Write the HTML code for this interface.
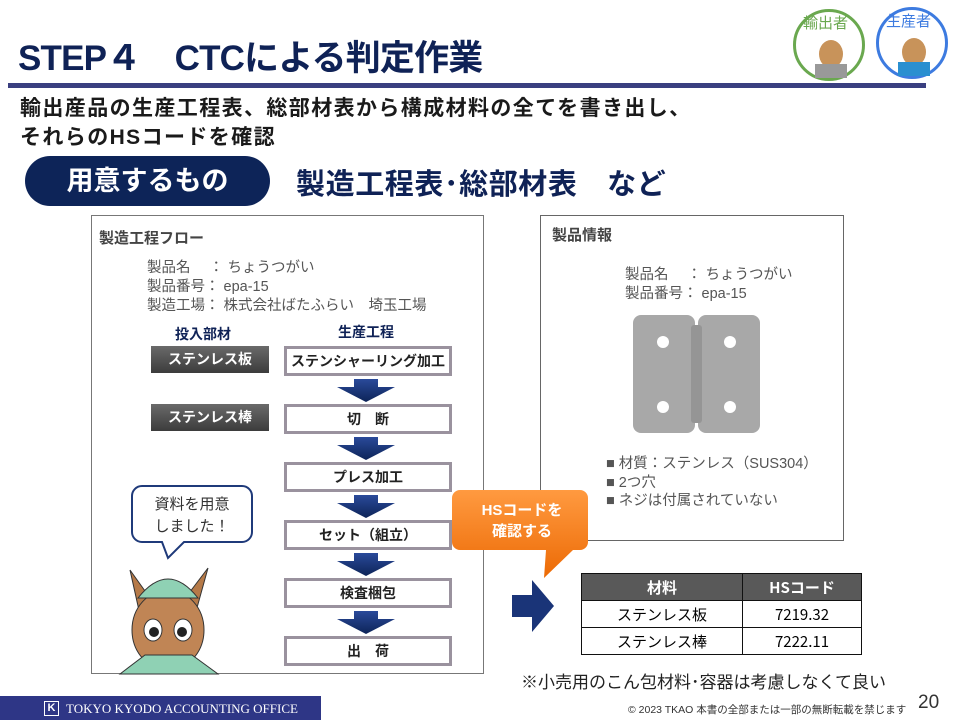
<!DOCTYPE html>
<html><head><meta charset="utf-8">
<style>
*{margin:0;padding:0;box-sizing:border-box}
body{width:960px;height:720px;background:#fff;position:relative;overflow:hidden;font-family:"Liberation Sans","Noto Sans CJK JP",sans-serif}
.a{position:absolute;white-space:nowrap}
.pb{position:absolute;left:284px;width:168px;height:30px;border:3px solid #9a929e;background:#fff;text-align:center;font-weight:bold;font-size:14px;line-height:24px;color:#222}
.db{position:absolute;left:151px;width:118px;height:27px;background:linear-gradient(#6a6a6a,#3c3c3c);color:#fff;font-weight:bold;font-size:14px;text-align:center;line-height:27px}
.g{color:#555;font-size:14.5px;line-height:19px}
td{border:1.5px solid #111;text-align:center;font-size:15px;height:27px;font-family:"Liberation Sans Narrow","Noto Sans CJK JP",sans-serif}
</style></head><body>
<div class="a" style="left:18px;top:30px;font-size:35px;font-weight:bold;color:#0f2256;letter-spacing:-0.8px">STEP４　CTCによる判定作業</div>
<div class="a" style="left:8px;top:83px;width:918px;height:5px;background:#3a3f80"></div>
<!-- top circles -->
<div class="a" style="left:793px;top:9px;width:72px;height:72px;border:3px solid #6aa84f;border-radius:50%;background:#fff"></div>
<div class="a" style="left:876px;top:7px;width:72px;height:72px;border:3px solid #3d7be0;border-radius:50%;background:#fff"></div>
<div class="a" style="left:803px;top:12px;font-size:15px;color:#6aa84f">輸出者</div>
<div class="a" style="left:886px;top:10px;font-size:15px;color:#3d7be0">生産者</div>
<svg class="a" style="left:793px;top:9px" width="160" height="75">
<ellipse cx="38" cy="45" rx="12" ry="14" fill="#c8935a"/><rect x="22" y="55" width="32" height="14" fill="#999"/>
<ellipse cx="121" cy="43" rx="12" ry="14" fill="#c8935a"/><rect x="105" y="53" width="32" height="14" fill="#2a8fd0"/>
</svg>
<div class="a" style="left:20px;top:94px;font-size:21px;font-weight:bold;color:#1a1a1a;line-height:29px;letter-spacing:1.4px">輸出産品の生産工程表、総部材表から構成材料の全てを書き出し、<br>それらのHSコードを確認</div>
<div class="a" style="left:25px;top:156px;width:245px;height:50px;background:#0d2458;border-radius:25px;color:#fff;font-size:27px;font-weight:bold;text-align:center;line-height:50px">用意するもの</div>
<div class="a" style="left:296px;top:161px;font-size:29px;font-weight:bold;color:#0f2256;letter-spacing:0.6px">製造工程表･総部材表　など</div>

<!-- left box -->
<div class="a" style="left:91px;top:215px;width:393px;height:459px;border:1px solid #777"></div>
<div class="a" style="left:99px;top:227px;font-size:15px;font-weight:bold;color:#444">製造工程フロー</div>
<div class="a g" style="left:147px;top:259px">製品名　 ：  ちょうつがい<br>製品番号：  epa-15<br>製造工場：  株式会社ばたふらい　埼玉工場</div>
<div class="a" style="left:175px;top:324px;font-size:14px;font-weight:bold;color:#0f2256">投入部材</div>
<div class="a" style="left:338px;top:322px;font-size:14px;font-weight:bold;color:#0f2256">生産工程</div>
<div class="db" style="top:346px">ステンレス板</div>
<div class="db" style="top:404px">ステンレス棒</div>
<div class="pb" style="top:346px">ステンシャーリング加工</div>
<div class="pb" style="top:404px">切　断</div>
<div class="pb" style="top:462px">プレス加工</div>
<div class="pb" style="top:520px">セット（組立）</div>
<div class="pb" style="top:578px">検査梱包</div>
<div class="pb" style="top:636px">出　荷</div>
<svg class="a" style="left:337px;top:377px" width="60" height="260">
<defs><linearGradient id="bg" x1="0" y1="0" x2="0" y2="1"><stop offset="0" stop-color="#2a4a9a"/><stop offset="1" stop-color="#0d2458"/></linearGradient></defs>
<g fill="url(#bg)">
<polygon points="17,2 41,2 41,10 58,10 29,25 0,10 17,10"/>
<polygon transform="translate(0,58)" points="17,2 41,2 41,10 58,10 29,25 0,10 17,10"/>
<polygon transform="translate(0,116)" points="17,2 41,2 41,10 58,10 29,25 0,10 17,10"/>
<polygon transform="translate(0,174)" points="17,2 41,2 41,10 58,10 29,25 0,10 17,10"/>
<polygon transform="translate(0,232)" points="17,2 41,2 41,10 58,10 29,25 0,10 17,10"/>
</g></svg>
<!-- speech bubble + character -->
<svg class="a" style="left:100px;top:480px" width="180" height="195">
<path d="M42,6 H142 a10,10 0 0 1 10,10 V52 a10,10 0 0 1 -10,10 H84 L68,78 L62,62 H42 a10,10 0 0 1 -10,-10 V16 a10,10 0 0 1 10,-10Z" fill="#fff" stroke="#1f3a7a" stroke-width="2"/>
<polygon points="30,90 55,125 40,135" fill="#b67a48" stroke="#333"/>
<polygon points="108,88 80,125 95,135" fill="#b67a48" stroke="#333"/>
<ellipse cx="68" cy="150" rx="36" ry="40" fill="#c08555" stroke="#333"/>
<path d="M38,118 Q68,80 98,118 Z" fill="#8fd1b4" stroke="#333"/>
<ellipse cx="53" cy="150" rx="9" ry="11" fill="#fff" stroke="#333"/><ellipse cx="83" cy="150" rx="9" ry="11" fill="#fff" stroke="#333"/>
<circle cx="54" cy="152" r="5" fill="#222"/><circle cx="82" cy="152" r="5" fill="#222"/>
<path d="M20,194 L45,175 H92 L118,194 Z" fill="#8fd1b4" stroke="#333"/>
</svg>
<div class="a" style="left:132px;top:494px;width:120px;text-align:center;font-size:15px;color:#333;line-height:22px">資料を用意<br>しました！</div>

<!-- right box -->
<div class="a" style="left:540px;top:215px;width:304px;height:326px;border:1px solid #666"></div>
<div class="a" style="left:552px;top:224px;font-size:15px;font-weight:bold;color:#444">製品情報</div>
<div class="a g" style="left:625px;top:266px">製品名　 ：  ちょうつがい<br>製品番号：  epa-15</div>
<svg class="a" style="left:633px;top:315px" width="128" height="120">
<rect x="0" y="0" width="62" height="118" rx="8" fill="#a8a8a8"/>
<rect x="65" y="0" width="62" height="118" rx="8" fill="#a8a8a8"/>
<rect x="58" y="10" width="11" height="98" rx="3" fill="#959595"/>
<circle cx="30" cy="27" r="6" fill="#fff"/><circle cx="30" cy="92" r="6" fill="#fff"/>
<circle cx="97" cy="27" r="6" fill="#fff"/><circle cx="97" cy="92" r="6" fill="#fff"/>
</svg>
<div class="a" style="left:606px;top:455px;font-size:14.5px;color:#555;line-height:18.5px">■ 材質：ステンレス（SUS304）<br>■ 2つ穴<br>■ ネジは付属されていない</div>

<!-- orange callout -->
<svg class="a" style="left:448px;top:486px" width="150" height="95">
<defs><linearGradient id="og" x1="0" y1="0" x2="0" y2="1"><stop offset="0" stop-color="#ff9a40"/><stop offset="1" stop-color="#ec6a05"/></linearGradient></defs>
<path d="M12,4 H132 a8,8 0 0 1 8,8 V56 a8,8 0 0 1 -8,8 H125 L96,92 L98,64 H12 a8,8 0 0 1 -8,-8 V12 a8,8 0 0 1 8,-8Z" fill="url(#og)"/>
</svg>
<div class="a" style="left:452px;top:500px;width:140px;text-align:center;font-size:15px;font-weight:bold;color:#fff;line-height:21px">HSコードを<br>確認する</div>
<svg class="a" style="left:512px;top:580px" width="45" height="55"><polygon points="0,15 20,15 20,0 42,26 20,52 20,37 0,37" fill="#1a3478"/></svg>
<table class="a" style="left:581px;top:573px;width:281px;border-collapse:collapse">
<tr><td style="background:#595959;color:#fff;font-weight:bold;width:161px">材料</td><td style="background:#595959;color:#fff;font-weight:bold">HSコード</td></tr>
<tr><td>ステンレス板</td><td>7219.32</td></tr>
<tr><td>ステンレス棒</td><td>7222.11</td></tr>
</table>
<div class="a" style="left:521px;top:668px;font-size:17px;color:#222">※小売用のこん包材料･容器は考慮しなくて良い</div>

<!-- footer -->
<div class="a" style="left:0;top:696px;width:321px;height:24px;background:#2e3686"></div>
<div class="a" style="left:44px;top:701px;width:15px;height:15px;border:1.5px solid #fff;color:#fff;font-size:11px;font-weight:bold;line-height:12px;text-align:center">K</div>
<div class="a" style="left:66px;top:701px;font-family:'Liberation Serif',serif;font-size:13px;color:#fff">TOKYO KYODO ACCOUNTING OFFICE</div>
<div class="a" style="left:628px;top:702px;font-size:10.5px;color:#333">© 2023 TKAO 本書の全部または一部の無断転載を禁じます</div>
<div class="a" style="left:918px;top:692px;font-size:19px;color:#333">20</div>
</body></html>
